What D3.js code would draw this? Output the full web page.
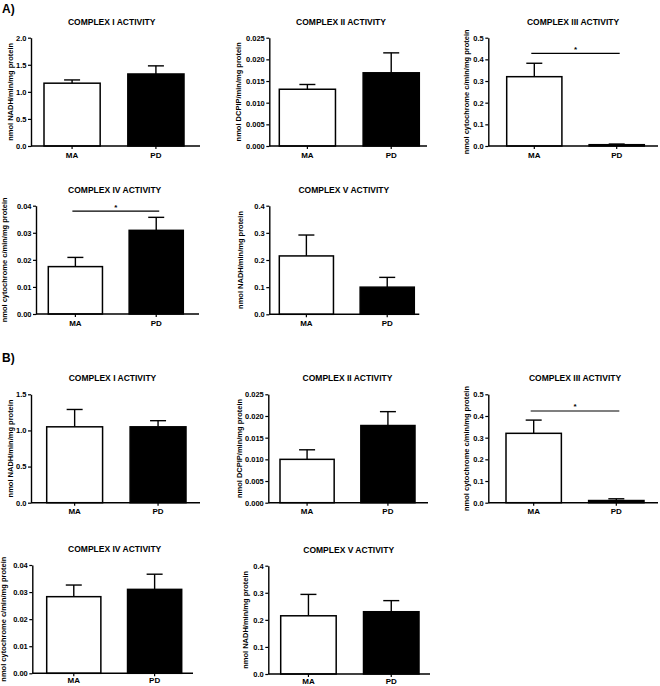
<!DOCTYPE html>
<html>
<head>
<meta charset="utf-8">
<script src="https://cdn.jsdelivr.net/npm/d3@7"></script>
<style>
  html, body { margin: 0; padding: 0; background: #fff; }
  svg { display: block; font-family: "Liberation Sans", Arial, sans-serif; font-weight: bold; }
</style>
</head>
<body>
<svg id="chart" width="660" height="686"></svg>
<script>
// ---------------- data ----------------
const groups = ["MA", "PD"];
const sectionLabels = ["A)", "B)"];
const panelTitles = [
  "COMPLEX I ACTIVITY", "COMPLEX II ACTIVITY", "COMPLEX III ACTIVITY", "COMPLEX IV ACTIVITY", "COMPLEX V ACTIVITY",
  "COMPLEX I ACTIVITY", "COMPLEX II ACTIVITY", "COMPLEX III ACTIVITY", "COMPLEX IV ACTIVITY", "COMPLEX V ACTIVITY"
];
const yAxisLabels = [
  "nmol NADH/min/mg protein", "nmol DCPIP/min/mg protein", "nmol cytochrome c/min/mg protein",
  "nmol cytochrome c/min/mg protein", "nmol NADH/min/mg protein",
  "nmol NADH/min/mg protein", "nmol DCPIP/min/mg protein", "nmol cytochrome c/min/mg protein",
  "nmol cytochrome c/min/mg protein", "nmol NADH/min/mg protein"
];
const meanMA = [1.16, 0.0131, 0.320, 0.0175, 0.215, 1.05, 0.0100, 0.320, 0.0283, 0.215];
const meanPD = [1.33, 0.0169, 0.006, 0.0309, 0.100, 1.05, 0.0178, 0.010, 0.0310, 0.230];
const errMA  = [0.06, 0.0011, 0.062, 0.0034, 0.077, 0.24, 0.0022, 0.061, 0.0043, 0.079];
const errPD  = [0.15, 0.0046, 0.003, 0.0048, 0.036, 0.085, 0.0032, 0.008, 0.0056, 0.041];
const ticksComplexI_A = [0, 0.5, 1.0, 1.5, 2.0];
const ticksComplexI_B = [0, 0.5, 1.0, 1.5];
const ticksComplexII  = [0, 0.005, 0.010, 0.015, 0.020, 0.025];
const ticksComplexIII = [0, 0.1, 0.2, 0.3, 0.4, 0.5];
const ticksComplexIV  = [0, 0.01, 0.02, 0.03, 0.04];
const ticksComplexV   = [0, 0.1, 0.2, 0.3, 0.4];
const panelTicks = [ticksComplexI_A, ticksComplexII, ticksComplexIII, ticksComplexIV, ticksComplexV,
                    ticksComplexI_B, ticksComplexII, ticksComplexIII, ticksComplexIV, ticksComplexV];
const tickDecimals = [1, 3, 1, 2, 1, 1, 3, 1, 2, 1];
const significanceAt = [null, null, 0.428, 0.038, null, null, null, 0.423, null, null];

// ---------------- layout (pixel positions) ----------------
const layout = [
  {ax: 31,    top: 37.7,  bot: 146,   end: 200,   b0: 44,    b1: 184,   tx: 111.7, lx: 10,    pad: 3},
  {ax: 269.3, top: 37.7,  bot: 146,   end: 427,   b0: 279.3, b1: 419.3, tx: 341,   lx: 238.5, pad: 3},
  {ax: 488.3, top: 37.7,  bot: 146,   end: 658,   b0: 506.7, b1: 644.3, tx: 573,   lx: 466,   pad: 3},
  {ax: 36,    top: 205.7, bot: 314,   end: 199,   b0: 48.3,  b1: 183.3, tx: 114.7, lx: 4.5,   pad: 3},
  {ax: 269.3, top: 205.7, bot: 314.3, end: 419.3, b0: 279.3, b1: 414.3, tx: 343.8, lx: 240.5, pad: 3},
  {ax: 31,    top: 394.3, bot: 502.7, end: 200,   b0: 46.7,  b1: 186,   tx: 112.5, lx: 10,    pad: 3},
  {ax: 268.3, top: 394.3, bot: 502.7, end: 428,   b0: 280,   b1: 415,   tx: 347.5, lx: 239.5, pad: 3},
  {ax: 488.3, top: 394.3, bot: 502.7, end: 658,   b0: 506,   b1: 644,   tx: 575,   lx: 466,   pad: 3},
  {ax: 32.3,  top: 565,   bot: 673.3, end: 193,   b0: 46.7,  b1: 181.7, tx: 114.7, lx: 3.5,   pad: 1.5},
  {ax: 268.3, top: 565.7, bot: 674,   end: 430,   b0: 280.7, b1: 419,   tx: 348.7, lx: 245,   pad: 1.3}
];
const sectionPos = [[2, 13], [2, 361.7]];

const svg = d3.select("#chart");
svg.append("rect").attr("width", 660).attr("height", 686).attr("fill", "#fff");

sectionLabels.forEach((s, i) => {
  svg.append("text").attr("x", sectionPos[i][0]).attr("y", sectionPos[i][1])
    .attr("font-size", 12).attr("fill", "#000").text(s);
});

layout.forEach((L, i) => {
  const g = svg.append("g");
  const ticks = panelTicks[i];
  const y = d3.scaleLinear().domain([0, d3.max(ticks)]).range([L.bot, L.top]);
  const x = d3.scaleBand().domain(groups).range([L.b0, L.b1]).paddingInner(0.33).paddingOuter(0);
  const means = [meanMA[i], meanPD[i]];
  const errs = [errMA[i], errPD[i]];
  const data = groups.map((gname, k) => ({g: gname, m: means[k], e: errs[k], fill: k === 0 ? "#fff" : "#000"}));

  // error bars (drawn first so bar covers lower part)
  data.forEach(d => {
    const cx = x(d.g) + x.bandwidth() / 2;
    g.append("line").attr("x1", cx).attr("x2", cx).attr("y1", y(d.m)).attr("y2", y(d.m + d.e))
      .attr("stroke", "#000").attr("stroke-width", 1.4);
    g.append("line").attr("x1", cx - 8).attr("x2", cx + 8).attr("y1", y(d.m + d.e)).attr("y2", y(d.m + d.e))
      .attr("stroke", "#000").attr("stroke-width", 1.4);
  });

  // bars
  g.selectAll("rect.bar").data(data).enter().append("rect")
    .attr("class", "bar")
    .attr("x", d => x(d.g))
    .attr("y", d => y(d.m))
    .attr("width", x.bandwidth())
    .attr("height", d => y(0) - y(d.m))
    .attr("fill", d => d.fill)
    .attr("stroke", "#000").attr("stroke-width", 1.5);

  // y axis
  const yAxis = d3.axisLeft(y).tickValues(ticks).tickSize(3).tickSizeOuter(0).tickPadding(1.5)
    .tickFormat(d3.format("." + tickDecimals[i] + "f"));
  const ya = g.append("g").attr("transform", `translate(${L.ax},0)`).call(yAxis);
  ya.select(".domain").attr("stroke-width", 1.4);
  ya.selectAll(".tick line").attr("stroke-width", 1.2);
  ya.selectAll("text").attr("font-size", 7.5).attr("font-family", "Liberation Sans, Arial, sans-serif")
    .attr("font-weight", "bold").attr("fill", "#000");

  // x axis
  const xAxis = d3.axisBottom(x).tickSize(3).tickSizeOuter(0).tickPadding(L.pad);
  const xa = g.append("g").attr("transform", `translate(0,${L.bot})`).call(xAxis);
  xa.select(".domain").attr("d", `M${L.ax},0H${L.end}`).attr("stroke-width", 1.4);
  xa.selectAll(".tick line").attr("stroke-width", 1.2);
  xa.selectAll("text").attr("font-size", 8).attr("font-family", "Liberation Sans, Arial, sans-serif")
    .attr("font-weight", "bold").attr("fill", "#000");

  // title
  g.append("text").attr("x", L.tx).attr("y", L.top - 13).attr("text-anchor", "middle")
    .attr("font-size", 8.5).attr("fill", "#000").text(panelTitles[i]);

  // y label
  g.append("text")
    .attr("transform", `translate(${L.lx},${(L.top + L.bot) / 2}) rotate(-90)`)
    .attr("text-anchor", "middle").attr("dominant-baseline", "central")
    .attr("font-size", 7.5).attr("fill", "#000").text(yAxisLabels[i]);

  // significance
  if (significanceAt[i] !== null) {
    const c0 = x(groups[0]) + x.bandwidth() / 2 - 3;
    const c1 = x(groups[1]) + x.bandwidth() / 2 + 3;
    const sy = y(significanceAt[i]);
    g.append("line").attr("x1", c0).attr("x2", c1).attr("y1", sy).attr("y2", sy)
      .attr("stroke", "#000").attr("stroke-width", 1.2);
    g.append("text").attr("x", (c0 + c1) / 2).attr("y", sy - 1.5).attr("text-anchor", "middle")
      .attr("font-size", 8).attr("fill", "#000").text("*");
  }
});
</script>
</body>
</html>
